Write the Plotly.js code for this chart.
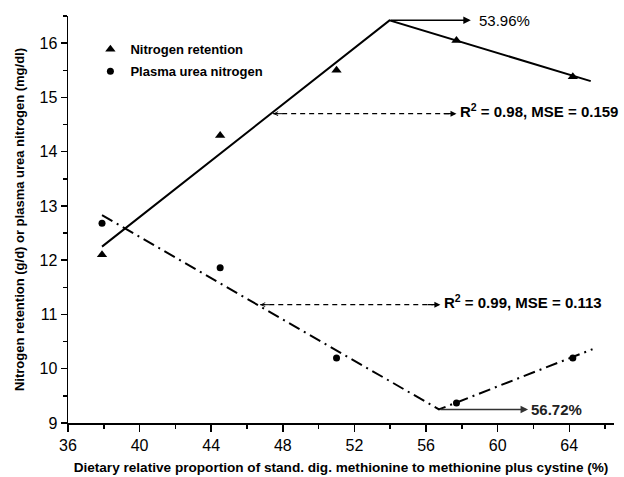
<!DOCTYPE html>
<html>
<head>
<meta charset="utf-8">
<script src="https://cdn.plot.ly/plotly-3.0.1.min.js"></script>
<style>html,body{margin:0;padding:0;background:#fff;}#chart{width:624px;height:477px;}</style>
</head>
<body>
<div id="chart"></div>
<script>
// Observed data
var dietX = [37.9, 44.5, 51.0, 57.7, 64.2];
var nitrogenRetention = [12.1, 14.3, 15.5, 16.05, 15.38];
var plasmaUreaN = [12.68, 11.86, 10.2, 9.37, 10.2];

// Broken-line fits
var nrFitX = [37.9, 53.96, 65.2];
var nrFitY = [12.25, 16.42, 15.3];
var punFitX = [37.9, 56.72, 65.3];
var punFitY = [12.83, 9.25, 10.36];

// Annotation values
var nrBreak = 53.96, punBreak = 56.72;
var nrR2Label = "R<sup>2</sup> = 0.98, MSE = 0.159";
var punR2Label = "R<sup>2</sup> = 0.99, MSE = 0.113";
var nrR2Pt = [47.46, 14.70];
var punR2Pt = [46.74, 11.18];

var xTicks = [36, 40, 44, 48, 52, 56, 60, 64];
var yTicks = [9, 10, 11, 12, 13, 14, 15, 16];

var FONT = '"Liberation Sans", Arial, sans-serif';

var traces = [
  {x: dietX, y: nitrogenRetention, type: 'scatter', mode: 'markers', name: '<b>Nitrogen retention</b>',
   legendgroup: 'a', marker: {symbol: 'triangle-up', size: 9, color: '#000'}},
  {x: dietX, y: plasmaUreaN, type: 'scatter', mode: 'markers', name: '<b>Plasma urea nitrogen</b>',
   legendgroup: 'b', marker: {symbol: 'circle', size: 7, color: '#000'}},
  {x: nrFitX, y: nrFitY, type: 'scatter', mode: 'lines', showlegend: false, hoverinfo: 'skip',
   line: {color: '#000', width: 2}},
  {x: punFitX, y: punFitY, type: 'scatter', mode: 'lines', showlegend: false, hoverinfo: 'skip',
   line: {color: '#000', width: 2, dash: '12px,5px,2px,5px'}}
];

var nrPeakY = nrFitY[1];
var punLowY = punFitY[1];

var shapes = [
  {type: 'line', xref: 'x', yref: 'y', x0: nrR2Pt[0], y0: nrR2Pt[1], x1: 57.3, y1: nrR2Pt[1],
   line: {color: '#000', width: 1.2, dash: '5px,4px'}},
  {type: 'line', xref: 'x', yref: 'y', x0: punR2Pt[0], y0: punR2Pt[1], x1: 56.4, y1: punR2Pt[1],
   line: {color: '#000', width: 1.2, dash: '5px,4px'}}
];

function arrow(tipX, tipY, tailX, tailY, color, head, size, w) {
  return {x: tipX, y: tipY, ax: tailX, ay: tailY, xref: 'x', yref: 'y', axref: 'x', ayref: 'y',
    text: '', showarrow: true, arrowhead: head, arrowsize: size, arrowwidth: w, arrowcolor: color, standoff: 0};
}
function label(x, y, txt, size, bold, color) {
  return {x: x, y: y, xref: 'x', yref: 'y', xanchor: 'left', yanchor: 'middle', showarrow: false,
    text: bold ? '<b>' + txt + '</b>' : txt, font: {family: FONT, size: size, color: color || '#000'}};
}

var annotations = [
  arrow(58.5, nrPeakY, nrBreak, nrPeakY, '#000', 2, 1, 1.5),
  label(58.85, nrPeakY, nrBreak.toFixed(2) + '%', 15, false),
  arrow(57.7, nrR2Pt[1], 56.9, nrR2Pt[1], '#000', 2, 1, 1.2),
  arrow(nrR2Pt[0], nrR2Pt[1], nrR2Pt[0] + 0.6, nrR2Pt[1], '#000', 5, 0.8, 1),
  label(57.8, nrR2Pt[1] + 0.05, nrR2Label, 15, true),
  arrow(56.8, punR2Pt[1], 56.0, punR2Pt[1], '#000', 2, 1, 1.2),
  arrow(punR2Pt[0], punR2Pt[1], punR2Pt[0] + 0.6, punR2Pt[1], '#000', 5, 0.8, 1),
  label(56.9, punR2Pt[1] + 0.05, punR2Label, 15, true),
  arrow(61.7, punLowY, punBreak, punLowY, '#333', 2, 1, 1.5),
  label(61.75, punLowY, punBreak.toFixed(2) + '%', 15, true, '#222')
];

var layout = {
  width: 624, height: 477,
  margin: {l: 68, r: 10, t: 16, b: 54},
  paper_bgcolor: '#fff', plot_bgcolor: '#fff',
  font: {family: FONT, color: '#000'},
  showlegend: true,
  legend: {x: 0.041, y: 0.955, xanchor: 'left', yanchor: 'top', bgcolor: 'rgba(0,0,0,0)',
    font: {family: FONT, size: 13, color: '#000'}, traceorder: 'grouped', tracegroupgap: 2},
  xaxis: {
    range: [36, 66.5], tickvals: xTicks, ticktext: xTicks.map(String),
    showgrid: false, zeroline: false, showline: true, linecolor: '#000', linewidth: 1.5,
    ticks: 'outside', ticklen: 7, tickwidth: 1.5, tickcolor: '#000',
    minor: {dtick: 2, tick0: 36, ticks: 'outside', ticklen: 4, tickwidth: 1.5, tickcolor: '#000', showgrid: false},
    tickfont: {family: FONT, size: 16, color: '#000'},
    title: {text: '<b>Dietary relative proportion of stand. dig. methionine to methionine plus cystine (%)</b>',
      font: {family: FONT, size: 13.6, color: '#000'}, standoff: 10}
  },
  yaxis: {
    range: [9, 16.5], tickvals: yTicks, ticktext: yTicks.map(String),
    showgrid: false, zeroline: false, showline: true, linecolor: '#000', linewidth: 1.5,
    ticks: 'outside', ticklen: 6, tickwidth: 1.5, tickcolor: '#000',
    minor: {dtick: 0.5, tick0: 9, ticks: 'outside', ticklen: 4, tickwidth: 1.5, tickcolor: '#000', showgrid: false},
    tickfont: {family: FONT, size: 16, color: '#000'},
    title: {text: '<b>Nitrogen retention (g/d) or plasma urea nitrogen (mg/dl)</b>',
      font: {family: FONT, size: 13, color: '#000'}, standoff: 12}
  },
  shapes: shapes,
  annotations: annotations
};

Plotly.newPlot('chart', traces, layout, {displayModeBar: false, staticPlot: true});
</script>
</body>
</html>
